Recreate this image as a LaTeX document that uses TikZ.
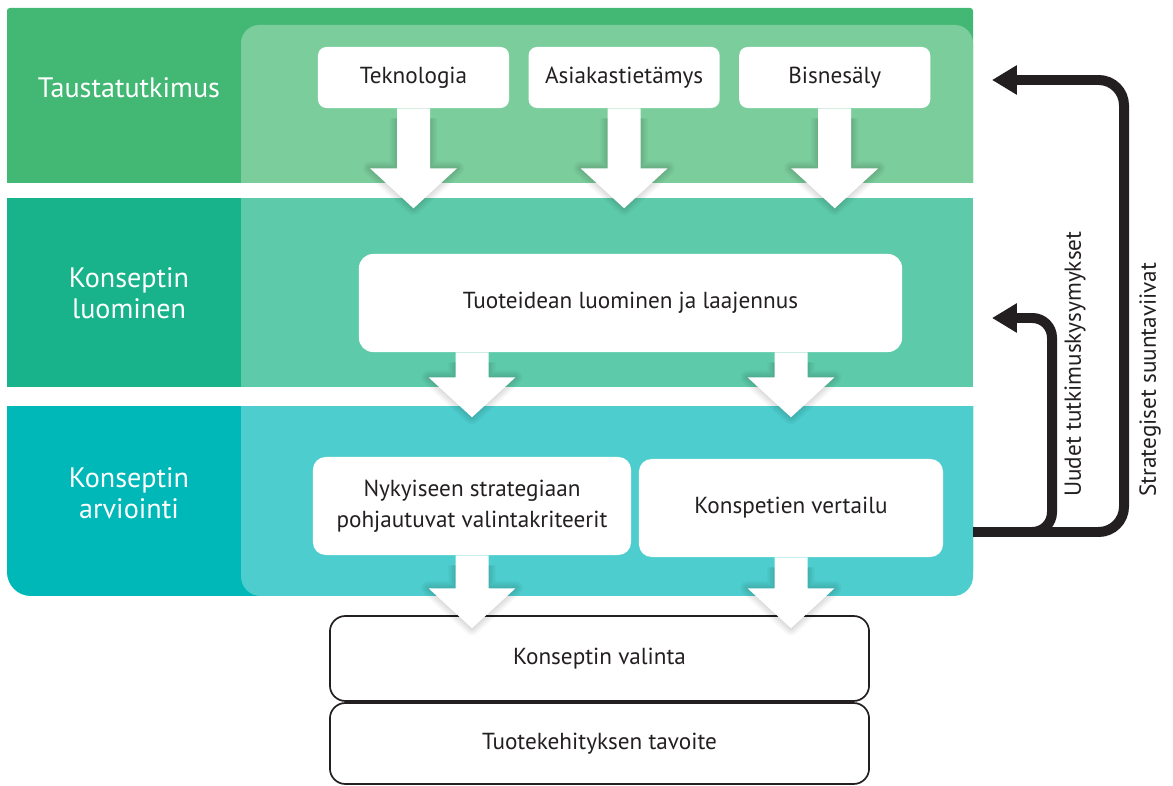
\documentclass[tikz,border=0pt]{standalone}
\usepackage{fontspec}
\setmainfont{PT Sans}
\usepackage{tikz}
\usetikzlibrary{positioning,calc,arrows.meta}

\definecolor{tausDark}{HTML}{43B874}
\definecolor{tausLight}{HTML}{7BCD9C}
\definecolor{luoDark}{HTML}{18B38A}
\definecolor{luoLight}{HTML}{5DCBA9}
\definecolor{arvDark}{HTML}{00B8B8}
\definecolor{arvLight}{HTML}{4DCDCD}
\definecolor{ink}{HTML}{231F20}

% wide white arrow with a soft shadow, from #1 down to the tip #2
\newcommand\flowarrow[2]{%
  \foreach \w in {10,7,4.5,2}
    \path[draw=black, opacity=.035, line width=\w pt, line join=round, yshift=-2pt]
      ($(#1)+(-16.5,10)$) -- ($(#2)+(-16.5,-40)$) -- ($(#2)+(-43.5,-40)$) -- (#2)
      -- ($(#2)+(43.5,-40)$) -- ($(#2)+(16.5,-40)$) -- ($(#1)+(16.5,10)$);
  \fill[white] ($(#1)+(-16.5,0)$) -- ($(#2)+(-16.5,-40)$) -- ($(#2)+(-43.5,-40)$) -- (#2)
      -- ($(#2)+(43.5,-40)$) -- ($(#2)+(16.5,-40)$) -- ($(#1)+(16.5,0)$) -- cycle;}

\begin{document}
\begin{tikzpicture}[x=0.025cm, y=-0.025cm,
  box/.style={fill=white, rounded corners=6pt, text=ink, align=center, font=\fontsize{16.5}{22}\selectfont},
  endbox/.style={draw=ink, line width=1.2pt, fill=white, rounded corners=11pt, text=ink, font=\fontsize{16.5}{22}\selectfont, minimum width=13.475cm},
  phase/.style={text=white, align=center, font=\fontsize{20}{22}\selectfont},
  back/.style={ink, line width=7.1pt, -{Triangle[width=19.8pt,length=17.7pt]}},
  backtext/.style={rotate=90, anchor=west, inner sep=0pt, text=ink, font=\fontsize{16.5}{18}\selectfont}]

  \useasboundingbox (0,0) rectangle (1173,786);

  % Taustatutkimus band
  \begin{scope}
    \clip (0,0) rectangle (1173,183);
    \fill[tausDark, rounded corners=2pt] (7,8) rectangle (973,220);
    \fill[tausLight, rounded corners=13pt] (241,25) rectangle (973,220);
  \end{scope}
  % Konseptin luominen band
  \fill[luoDark] (7,198) rectangle (973,387);
  \fill[luoLight] (241,198) rectangle (973,387);
  % Konseptin arviointi band
  \begin{scope}
    \clip (0,407) rectangle (1173,786);
    \fill[arvDark, rounded corners=17pt] (7,380) rectangle (973,596);
    \fill[arvLight, rounded corners=14pt] (241,380) rectangle (973,596);
  \end{scope}

  % Phase titles
  \node[phase] (taus) at (129,88) {Taustatutkimus};
  \node[phase] (luo) at (129,293) {Konseptin\\luominen};
  \node[phase] (arv) at (129,493) {Konseptin\\arviointi};

  % Background knowledge
  \node[box, minimum width=4.775cm, minimum height=1.525cm] (tek) at (413.5,77.5) {Teknologia};
  \node[box, minimum width=4.775cm, minimum height=1.525cm, right=0.475cm of tek] (asi) {Asiakastietämys};
  \node[box, minimum width=4.775cm, minimum height=1.525cm, right=0.475cm of asi] (bis) {Bisnesäly};

  % Idea and evaluation boxes
  \node[box, rounded corners=10pt, minimum width=13.575cm, minimum height=2.45cm] (idea) at (630.5,303) {Tuoteidean luominen ja laajennus};
  \node[box, rounded corners=9pt, minimum width=7.95cm, minimum height=2.45cm] (nyky) at (472,506) {Nykyiseen strategiaan\\pohjautuvat valintakriteerit};
  \node[box, rounded corners=9pt, minimum width=7.6cm, minimum height=2.45cm] (vert) at (791,508) {Konspetien vertailu};

  % Result boxes
  \node[endbox, minimum height=2.125cm] (valinta) at (599.5,658.5) {Konseptin valinta};
  \node[endbox, minimum height=2.025cm] (tavoite) at (599.5,743.5) {Tuotekehityksen tavoite};

  % Flow arrows
  \foreach \n in {tek,asi,bis} {
    \coordinate (\n tip) at ($(\n.south)+(0,100)$);
    \flowarrow{\n.south}{\n tip}
  }
  \coordinate (ideaL) at (idea.south -| nyky.north);
  \coordinate (ideaR) at (idea.south -| vert.north);
  \coordinate (ideaL tip) at ($(ideaL)+(0,65)$);
  \coordinate (ideaR tip) at ($(ideaR)+(0,65)$);
  \flowarrow{ideaL}{ideaL tip}
  \flowarrow{ideaR}{ideaR tip}
  \coordinate (nyky tip) at ($(nyky.south)+(0,73)$);
  \coordinate (vert tip) at ($(vert.south)+(0,71)$);
  \flowarrow{nyky.south}{nyky tip}
  \flowarrow{vert.south}{vert tip}

  % Feedback loops
  \coordinate (fb) at (973,532);
  \coordinate (uusTip) at (992,318);
  \coordinate (strTip) at (992,80);
  \draw[back, rounded corners=14pt] (fb) -| (1052,318) -- (uusTip);
  \draw[back, rounded corners=18pt] (fb) -| (1124,80) -- (strTip);
  \node[backtext] (uus) at (1075,497) {Uudet tutkimuskysymykset};
  \node[backtext] (str) at (1150,497) {Strategiset suuntaviivat};
\end{tikzpicture}
\end{document}
